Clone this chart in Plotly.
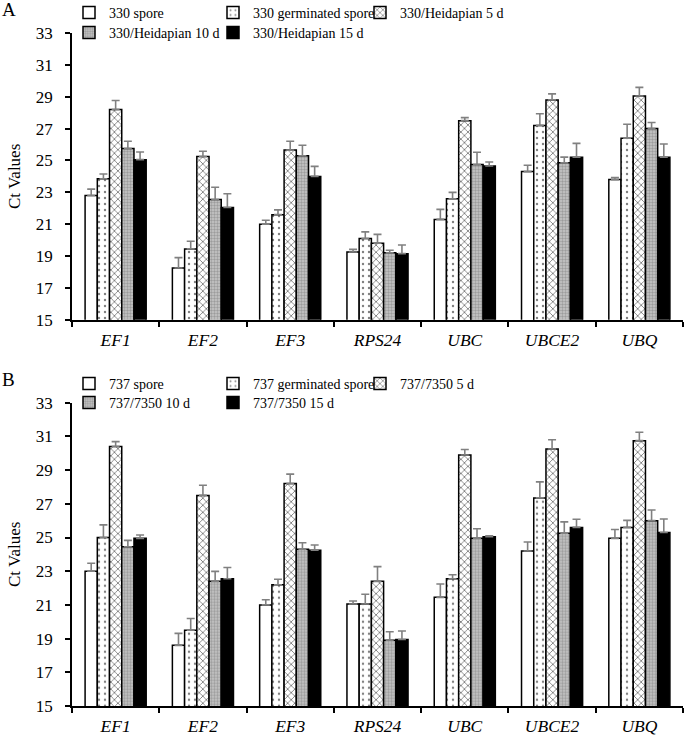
import plotly.graph_objects as go

genes = ["EF1", "EF2", "EF3", "RPS24", "UBC", "UBCE2", "UBQ"]

# Panel A
names_a = ["330 spore", "330 germinated spore", "330/Heidapian 5 d",
           "330/Heidapian 10 d", "330/Heidapian 15 d"]
a_spore = [22.8, 18.25, 21.0, 19.25, 21.3, 24.3, 23.8]
a_spore_err = [0.4, 0.65, 0.25, 0.17, 0.63, 0.4, 0.13]
a_germ = [23.85, 19.45, 21.6, 20.1, 22.6, 27.2, 26.4]
a_germ_err = [0.3, 0.48, 0.3, 0.42, 0.4, 0.73, 0.87]
a_5d = [28.2, 25.25, 25.65, 19.8, 27.5, 28.8, 29.05]
a_5d_err = [0.56, 0.33, 0.56, 0.56, 0.19, 0.38, 0.54]
a_10d = [25.75, 22.55, 25.3, 19.2, 24.75, 24.85, 27.0]
a_10d_err = [0.46, 0.77, 0.65, 0.16, 0.77, 0.36, 0.38]
a_15d = [25.05, 22.05, 24.0, 19.15, 24.65, 25.2, 25.2]
a_15d_err = [0.48, 0.86, 0.63, 0.54, 0.25, 0.87, 0.83]

# Panel B
names_b = ["737 spore", "737 germinated spore", "737/7350 5 d",
           "737/7350 10 d", "737/7350 15 d"]
b_spore = [23.0, 18.6, 21.0, 21.05, 21.45, 24.2, 24.95]
b_spore_err = [0.47, 0.71, 0.31, 0.18, 0.79, 0.53, 0.53]
b_germ = [25.0, 19.5, 22.2, 21.05, 22.55, 27.35, 25.6]
b_germ_err = [0.75, 0.69, 0.32, 0.58, 0.24, 0.95, 0.42]
b_5d = [30.4, 27.5, 28.2, 22.4, 29.9, 30.25, 30.75]
b_5d_err = [0.29, 0.6, 0.56, 0.87, 0.32, 0.55, 0.5]
b_10d = [24.45, 22.4, 24.3, 18.9, 24.95, 25.25, 26.0]
b_10d_err = [0.38, 0.59, 0.39, 0.51, 0.57, 0.68, 0.63]
b_15d = [24.95, 22.55, 24.25, 18.95, 25.05, 25.6, 25.3]
b_15d_err = [0.2, 0.67, 0.31, 0.5, 0.05, 0.48, 0.8]

FONT = "Liberation Serif, Times New Roman, serif"

styles = [
    dict(color="white"),
    dict(color="white", pattern=dict(shape=".", fgcolor="black", size=6, solidity=0.12)),
    dict(color="white", pattern=dict(shape="x", fgcolor="black", size=5, solidity=0.32)),
    dict(color="#c8c8c8", pattern=dict(shape=".", fgcolor="#707070", size=3, solidity=0.5)),
    dict(color="black"),
]

W, H = 685, 737
L, R, T, B = 72, 2, 33, 30.5
ph = H - T - B

# legend slot positions (text start x, centre y) in pixels
col_x = [107, 251, 398, 107, 251]
row_a = [13, 13, 13, 33, 33]
row_b = [384, 384, 384, 403, 403]

fig = go.Figure()
legend_layout = {}

leg = dict(orientation="h", xref="container", yref="container", xanchor="left",
           yanchor="middle", font=dict(family=FONT, size=14, color="black"),
           bgcolor="rgba(0,0,0,0)", itemwidth=30)

def add_panel(names, series, errs, xa, ya, rows, start):
    for i, (nm, vals, er) in enumerate(zip(names, series, errs)):
        m = dict(styles[i])
        m["line"] = dict(color="black", width=1.5)
        lid = f"legend{start + i}"
        fig.add_trace(go.Bar(
            x=genes, y=vals, name=nm, marker=m, showlegend=True,
            error_y=dict(type="data", array=er, arrayminus=[0] * len(er),
                         symmetric=False, color="#808080", thickness=1.6, width=4),
            xaxis=xa, yaxis=ya, legend=lid,
        ))
        legend_layout[lid] = dict(leg, x=(col_x[i] - 38) / W, y=1 - rows[i] / H)

add_panel(names_a, [a_spore, a_germ, a_5d, a_10d, a_15d],
          [a_spore_err, a_germ_err, a_5d_err, a_10d_err, a_15d_err], "x", "y", row_a, 2)
add_panel(names_b, [b_spore, b_germ, b_5d, b_10d, b_15d],
          [b_spore_err, b_germ_err, b_5d_err, b_10d_err, b_15d_err], "x2", "y2", row_b, 7)

def py(pix):
    return (H - B - pix) / ph

xcommon = dict(type="category", showline=True, linecolor="black", linewidth=1.5,
               ticks="outside", ticklen=5, tickcolor="black", tickwidth=1.5,
               tickson="boundaries", showgrid=False,
               tickfont=dict(family=FONT, size=17.5, color="black", style="italic"),
               ticklabelstandoff=3)
ycommon = dict(range=[15, 33], dtick=2, tick0=15, showline=True, linecolor="black",
               linewidth=1.5, ticks="outside", ticklen=5, tickcolor="black",
               tickwidth=1.5, showgrid=False, zeroline=False,
               tickfont=dict(family=FONT, size=17, color="black"),
               ticklabelstandoff=9,
               title=dict(text="Ct Values", font=dict(family=FONT, size=17, color="black"),
                          standoff=11))

fig.update_layout(
    width=W, height=H, margin=dict(l=L, r=R, t=T, b=B, autoexpand=False),
    paper_bgcolor="white", plot_bgcolor="white", showlegend=True,
    barmode="group", bargap=0.3, bargroupgap=0,
    font=dict(family=FONT, size=16, color="black"),
    xaxis=dict(xcommon, domain=[0, 1], anchor="y"),
    yaxis=dict(ycommon, domain=[py(320), 1], anchor="x"),
    xaxis2=dict(xcommon, domain=[0, 1], anchor="y2"),
    yaxis2=dict(ycommon, domain=[0, py(403)], anchor="x2"),
    annotations=[
        dict(text="A", x=(0 - L) / (W - L - R), y=py(9), xref="paper", yref="paper",
             xanchor="left", yanchor="middle", showarrow=False,
             font=dict(family=FONT, size=19, color="black")),
        dict(text="B", x=(0 - L) / (W - L - R), y=py(380), xref="paper", yref="paper",
             xanchor="left", yanchor="middle", showarrow=False,
             font=dict(family=FONT, size=19, color="black")),
    ],
    **legend_layout,
)

fig.write_html("out.html", config={"displayModeBar": False},
               post_script="document.body.style.margin='0px';")
